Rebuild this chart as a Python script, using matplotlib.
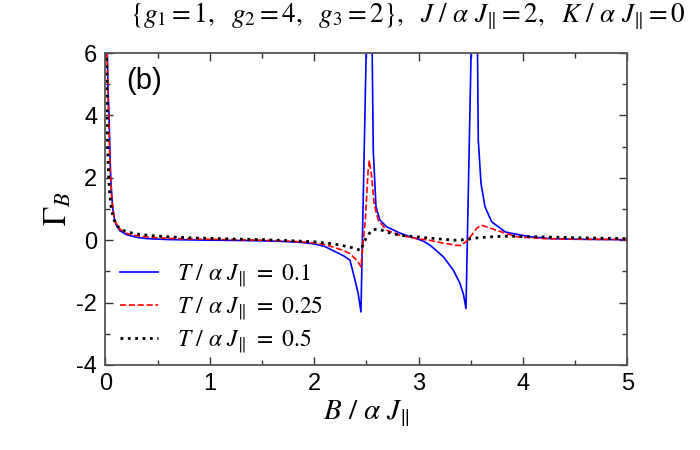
import matplotlib
matplotlib.use("Agg")
import matplotlib.pyplot as plt
from matplotlib.ticker import MultipleLocator

plt.rcParams["font.family"] = ["Liberation Sans", "DejaVu Sans"]
plt.rcParams["mathtext.fontset"] = "stix"
plt.rcParams["axes.unicode_minus"] = False

# values
b_t01 = [0.012, 0.017, 0.025, 0.034, 0.042, 0.05, 0.06, 0.07, 0.085, 0.1, 0.14, 0.2, 0.3,
         0.4, 0.6, 0.8, 1.0, 1.2, 1.5, 1.7, 1.87, 2.0, 2.1, 2.19, 2.28, 2.342, 2.39, 2.42,
         2.447, 2.515, 2.548, 2.565, 2.591, 2.629, 2.693, 2.82, 2.9, 2.98, 3.05, 3.109,
         3.236, 3.332, 3.396, 3.43, 3.453, 3.52, 3.558, 3.571, 3.597, 3.635, 3.699, 3.827,
         3.875, 4.066, 4.258, 4.5, 5.0]
g_t01 = [9.0, 6.0, 4.8, 4.0, 2.9, 2.0, 1.45, 1.0, 0.7, 0.5, 0.3, 0.18, 0.09,
         0.05, 0.02, 0.01, 0.0, -0.005, -0.02, -0.04, -0.07, -0.12, -0.2, -0.35, -0.5, -0.64,
         -1.28, -1.7, -2.30, 9.0, 8.0, 2.88, 1.07, 0.64, 0.43, 0.23, 0.13, 0.05, -0.04, -0.16,
         -0.53, -0.96, -1.39, -1.75, -2.19, 9.0, 8.0, 3.2, 1.82, 1.07, 0.59, 0.27,
         0.23, 0.11, 0.05, 0.03, 0.015]

b_t025 = [0.012, 0.016, 0.022, 0.03, 0.038, 0.046, 0.055, 0.065, 0.08, 0.1, 0.14, 0.2, 0.3,
          0.4, 0.6, 0.8, 1.0, 1.2, 1.5, 1.7, 1.87, 2.0, 2.1, 2.19, 2.28, 2.342, 2.39, 2.42,
          2.447, 2.49, 2.515, 2.527, 2.55, 2.572, 2.613, 2.693, 2.82, 2.98, 3.1, 3.2, 3.27,
          3.348, 3.40, 3.453, 3.508, 3.555, 3.603, 3.699, 3.827, 3.94, 4.2, 4.6, 5.0]
g_t025 = [8.0, 6.0, 4.8, 4.0, 3.0, 2.2, 1.6, 1.15, 0.8, 0.55, 0.35, 0.22, 0.14,
          0.1, 0.06, 0.04, 0.03, 0.02, 0.0, -0.02, -0.05, -0.09, -0.14, -0.23, -0.33, -0.43,
          -0.59, -0.7, -0.85, 0.7, 2.2, 2.56, 2.03, 1.18, 0.64, 0.32, 0.16, 0.05, 0.0, -0.07,
          -0.11, -0.16, -0.17, -0.05, 0.16, 0.38, 0.48, 0.37, 0.23, 0.11, 0.05, 0.03, 0.02]

b_t05 = [0.008, 0.012, 0.016, 0.02, 0.028, 0.04, 0.055, 0.075, 0.1, 0.14, 0.2, 0.3, 0.43,
         0.6, 0.8, 1.0, 1.2, 1.5, 1.8, 2.0, 2.19, 2.342, 2.42, 2.447, 2.47, 2.502, 2.55,
         2.6, 2.63, 2.725, 2.82, 3.0, 3.2, 3.348, 3.453, 3.55, 3.65, 3.827, 4.0, 4.5, 5.0]
g_t05 = [8.0, 5.5, 4.0, 3.0, 2.2, 1.5, 1.05, 0.72, 0.5, 0.37, 0.27, 0.2, 0.15,
         0.11, 0.08, 0.06, 0.04, 0.02, -0.02, -0.05, -0.12, -0.22, -0.3, -0.33, -0.11, 0.11,
         0.32, 0.36, 0.34, 0.23, 0.16, 0.1, 0.04, 0.0, 0.02, 0.07, 0.1, 0.13, 0.12, 0.08, 0.05]

series = [
    (b_t01, g_t01, "-", "#0000ff", r"$T\ /\ \alpha\ J_{\Vert}\ =\ 0.1$"),
    (b_t025, g_t025, "--", "#ff0000", r"$T\ /\ \alpha\ J_{\Vert}\ =\ 0.25$"),
    (b_t05, g_t05, ":", "#000000", r"$T\ /\ \alpha\ J_{\Vert}\ =\ 0.5$"),
]

fig = plt.figure(figsize=(7.0, 4.5), dpi=100)
ax = fig.add_axes([0.1507, 0.1889, 0.7457, 0.6933])

for bx, gy, ls, col, lab in series:
    lw = 2.0 if ls == ":" else 1.2
    ax.plot(bx, gy, ls, color=col, linewidth=lw, label=lab)

ax.set_xlim(0, 5)
ax.set_ylim(-4, 6)
ax.xaxis.set_major_locator(MultipleLocator(1))
ax.xaxis.set_minor_locator(MultipleLocator(0.5))
ax.yaxis.set_major_locator(MultipleLocator(2))
ax.yaxis.set_minor_locator(MultipleLocator(1))
ax.tick_params(which="both", direction="in", top=True, right=True, colors="#333333",
               labelcolor="black", labelsize=17, width=1.0)
ax.tick_params(which="major", length=6, pad=6)
ax.tick_params(which="minor", length=3.5)
for sp in ax.spines.values():
    sp.set_color("#555555")
    sp.set_linewidth(1.3)

ax.set_xlabel(r"$B\ /\ \alpha\ J_{\Vert}$", fontsize=21, labelpad=2)
ax.set_ylabel(r"$\Gamma_B$", fontsize=23, labelpad=2)
ax.text(0.04, 0.91, "(b)", transform=ax.transAxes, fontsize=21, va="center")

fig.text(0.582, 0.963,
         r"$\{g_1 = 1,\ \ g_2 = 4,\ \ g_3 = 2\},\ \ J\ /\ \alpha\ J_{\Vert} = 2,\ \ K\ /\ \alpha\ J_{\Vert} = 0$",
         fontsize=19.5, ha="center", va="center")

ax.legend(loc="lower left", bbox_to_anchor=(-0.012, -0.035), frameon=False, fontsize=17,
          handlelength=1.6, handletextpad=0.8, labelspacing=0.22, borderaxespad=0.5)

fig.savefig("out.png", dpi=100)
